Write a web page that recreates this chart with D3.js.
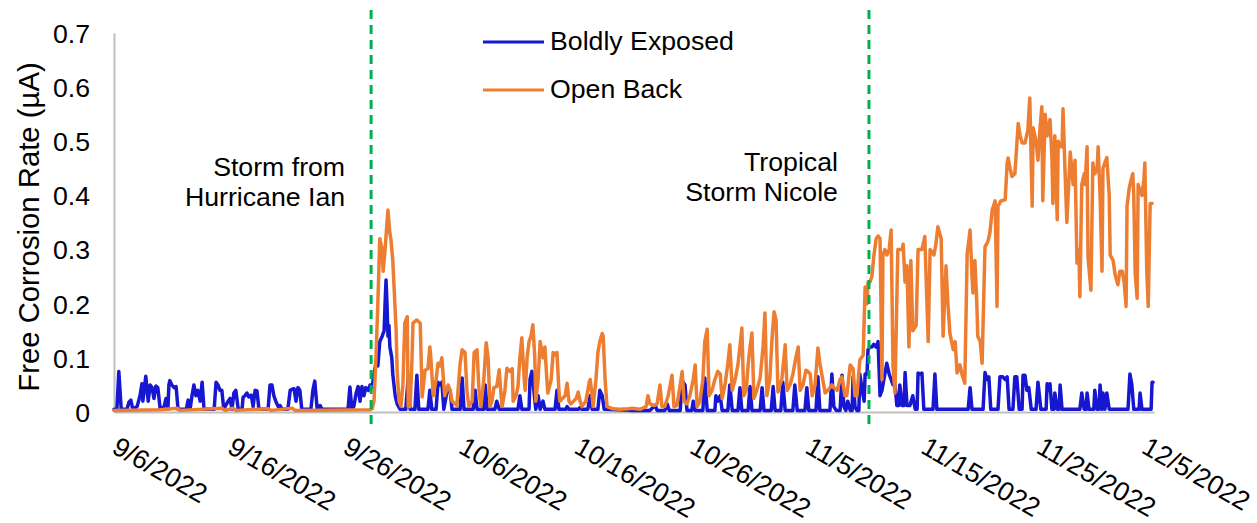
<!DOCTYPE html>
<html>
<head>
<meta charset="utf-8">
<script src="https://cdn.jsdelivr.net/npm/d3@7"></script>
<style>
  html, body { margin: 0; padding: 0; background: #fff; }
  svg text { font-family: "Liberation Sans", Arial, sans-serif; fill: #000; }
</style>
</head>
<body>
<svg id="chart" width="1257" height="523"></svg>
<script>
// Logger readings: [hours since 2022-09-06 00:00 UTC, free corrosion rate in µA]
const startDate = "2022-09-06T00:00Z";
const seriesNames = ["Boldly Exposed", "Open Back"];
const seriesColors = ["#1717d2", "#ed7d31"];

const boldlyExposed = [
  [0,0.005],[6,0.005],[10,0.075],[15,0.005],[27,0.005],[31,0.018],[35,0.022],[39,0.005],[48,0.01],[54,0.03],
  [58,0.052],[60,0.02],[66,0.066],[71,0.02],[75,0.05],[79,0.045],[83,0.025],[87,0.048],[91,0.045],[96,0.005],
  [104,0.01],[108,0.025],[112,0.005],[114,0.05],[116,0.058],[120,0.05],[125,0.045],[129,0.047],[133,0.005],[150,0.005],
  [154,0.022],[158,0.005],[162,0.03],[166,0.05],[170,0.03],[174,0.04],[179,0.02],[183,0.055],[187,0.005],[208,0.005],
  [212,0.055],[216,0.05],[220,0.04],[224,0.04],[228,0.005],[237,0.02],[241,0.025],[245,0.005],[249,0.035],[253,0.04],
  [258,0.005],[266,0.005],[268,0.027],[272,0.03],[276,0.035],[280,0.028],[285,0.031],[289,0.01],[293,0.04],[297,0.039],
  [301,0.005],[320,0.005],[324,0.05],[328,0.05],[332,0.03],[336,0.02],[341,0.01],[345,0.012],[349,0.005],[361,0.005],
  [366,0.04],[370,0.042],[374,0.043],[378,0.02],[382,0.045],[386,0.04],[390,0.005],[409,0.005],[413,0.04],[417,0.057],
  [422,0.005],[428,0.012],[432,0.005],[486,0.005],[490,0.046],[494,0.005],[498,0.01],[503,0.035],[507,0.047],[511,0.02],
  [515,0.047],[519,0.03],[523,0.045],[528,0.04],[532,0.05],[536,0.045],[540,0.07],[544,0.09],[548,0.085],[552,0.13],
  [557,0.14],[561,0.15],[563,0.2],[565,0.244],[567,0.2],[569,0.14],[571,0.16],[573,0.12],[577,0.1],[579,0.07],
  [584,0.03],[588,0.015],[594,0.005],[606,0.005],[611,0.065],[615,0.005],[625,0.005],[629,0.068],[633,0.005],[652,0.005],
  [656,0.04],[660,0.005],[669,0.005],[673,0.055],[677,0.05],[681,0.055],[685,0.005],[692,0.04],[698,0.04],[702,0.005],
  [719,0.005],[723,0.063],[727,0.005],[746,0.005],[750,0.04],[754,0.005],[768,0.005],[771,0.05],[775,0.005],[791,0.005],
  [795,0.02],[800,0.005],[839,0.005],[843,0.03],[847,0.005],[862,0.005],[864,0.06],[868,0.075],[872,0.04],[876,0.005],
  [881,0.03],[885,0.005],[891,0.02],[895,0.005],[916,0.005],[920,0.04],[924,0.005],[939,0.005],[941,0.01],[945,0.005],
  [964,0.005],[968,0.008],[972,0.005],[984,0.005],[989,0.03],[993,0.005],[1005,0.005],[1009,0.04],[1014,0.03],[1018,0.005],
  [1072,0.003],[1113,0.003],[1124,0.012],[1128,0.003],[1144,0.003],[1149,0.015],[1153,0.003],[1176,0.003],[1180,0.058],[1186,0.05],
  [1190,0.003],[1200,0.003],[1203,0.02],[1207,0.003],[1223,0.003],[1227,0.063],[1232,0.003],[1248,0.003],[1250,0.03],[1254,0.02],
  [1259,0.03],[1263,0.003],[1275,0.003],[1279,0.05],[1284,0.003],[1296,0.003],[1300,0.045],[1304,0.003],[1317,0.003],[1321,0.047],
  [1325,0.003],[1342,0.003],[1346,0.045],[1350,0.003],[1365,0.003],[1369,0.047],[1373,0.003],[1385,0.003],[1389,0.055],[1394,0.003],
  [1410,0.003],[1414,0.05],[1419,0.003],[1435,0.003],[1439,0.045],[1443,0.003],[1458,0.003],[1462,0.065],[1466,0.003],[1487,0.003],
  [1491,0.07],[1495,0.01],[1500,0.003],[1508,0.003],[1512,0.068],[1516,0.01],[1520,0.003],[1524,0.02],[1529,0.003],[1533,0.003],
  [1535,0.065],[1539,0.01],[1543,0.003],[1547,0.003],[1549,0.07],[1554,0.04],[1558,0.02],[1560,0.07],[1564,0.07],[1566,0.115],
  [1570,0.12],[1574,0.12],[1578,0.125],[1583,0.12],[1587,0.13],[1591,0.03],[1595,0.04],[1599,0.06],[1605,0.09],[1610,0.07],
  [1614,0.06],[1618,0.05],[1622,0.05],[1626,0.012],[1630,0.012],[1632,0.05],[1637,0.012],[1641,0.012],[1643,0.073],[1647,0.012],
  [1653,0.012],[1659,0.03],[1664,0.005],[1668,0.005],[1670,0.072],[1676,0.07],[1678,0.072],[1682,0.005],[1701,0.005],[1705,0.07],
  [1709,0.005],[1774,0.005],[1778,0.045],[1782,0.005],[1805,0.005],[1809,0.073],[1813,0.06],[1817,0.065],[1821,0.005],[1828,0.005],
  [1836,0.005],[1840,0.065],[1846,0.065],[1851,0.06],[1855,0.065],[1859,0.005],[1867,0.005],[1871,0.065],[1875,0.065],[1880,0.005],
  [1886,0.005],[1888,0.068],[1892,0.068],[1896,0.04],[1900,0.045],[1905,0.005],[1915,0.005],[1919,0.055],[1925,0.005],[1936,0.005],
  [1938,0.052],[1942,0.04],[1944,0.052],[1948,0.005],[1952,0.005],[1954,0.035],[1959,0.005],[1963,0.005],[1965,0.05],[1969,0.005],
  [2006,0.005],[2010,0.035],[2015,0.005],[2019,0.005],[2021,0.035],[2025,0.005],[2035,0.005],[2037,0.04],[2042,0.005],[2046,0.005],
  [2048,0.05],[2052,0.005],[2054,0.035],[2058,0.005],[2062,0.035],[2067,0.005],[2106,0.005],[2110,0.07],[2114,0.05],[2118,0.005],
  [2129,0.005],[2131,0.035],[2135,0.005],[2154,0.005],[2156,0.055],[2158,0.055]
];

const openBack = [
  [0,0.003],[96,0.004],[131,0.007],[137,0.003],[224,0.007],[231,0.003],[247,0.007],[253,0.003],[320,0.006],[326,0.003],
  [370,0.007],[376,0.003],[532,0.004],[536,0.006],[540,0.02],[544,0.1],[548,0.2],[552,0.32],[557,0.3],[559,0.26],
  [563,0.3],[567,0.35],[569,0.373],[571,0.35],[573,0.33],[575,0.32],[579,0.28],[582,0.225],[586,0.15],[588,0.077],
  [592,0.02],[596,0.011],[600,0.05],[604,0.164],[609,0.176],[611,0.01],[615,0.01],[619,0.1],[621,0.164],[629,0.17],
  [636,0.164],[640,0.028],[646,0.077],[652,0.08],[656,0.12],[658,0.1],[663,0.03],[669,0.06],[673,0.09],[677,0.085],
  [681,0.1],[685,0.05],[687,0.03],[694,0.05],[698,0.04],[702,0.02],[712,0.012],[719,0.09],[723,0.115],[729,0.11],
  [733,0.04],[737,0.01],[744,0.02],[748,0.11],[754,0.115],[758,0.04],[762,0.01],[768,0.06],[773,0.128],[777,0.1],
  [781,0.01],[785,0.02],[789,0.045],[795,0.047],[800,0.078],[804,0.03],[806,0.01],[812,0.04],[816,0.081],[822,0.075],
  [827,0.08],[829,0.02],[835,0.03],[839,0.047],[843,0.1],[847,0.137],[852,0.06],[854,0.04],[858,0.1],[862,0.13],
  [866,0.14],[870,0.161],[874,0.1],[876,0.02],[881,0.06],[885,0.13],[891,0.1],[895,0.12],[899,0.06],[901,0.035],
  [908,0.06],[912,0.11],[918,0.105],[920,0.11],[924,0.04],[926,0.02],[937,0.03],[941,0.053],[945,0.02],[949,0.015],
  [960,0.025],[964,0.037],[968,0.02],[972,0.01],[980,0.02],[987,0.055],[989,0.06],[993,0.03],[995,0.01],[1001,0.06],
  [1005,0.11],[1009,0.13],[1014,0.145],[1016,0.14],[1020,0.06],[1024,0.01],[1036,0.006],[1051,0.005],[1068,0.006],[1076,0.007],
  [1092,0.005],[1105,0.01],[1109,0.03],[1113,0.015],[1122,0.012],[1128,0.015],[1134,0.05],[1138,0.01],[1144,0.01],[1151,0.03],
  [1159,0.068],[1163,0.01],[1169,0.012],[1176,0.05],[1180,0.075],[1184,0.02],[1190,0.015],[1196,0.03],[1203,0.06],[1207,0.087],
  [1211,0.01],[1217,0.02],[1223,0.06],[1227,0.13],[1232,0.153],[1236,0.03],[1242,0.04],[1248,0.06],[1254,0.075],[1259,0.07],
  [1263,0.025],[1269,0.05],[1275,0.09],[1279,0.124],[1284,0.04],[1290,0.06],[1296,0.088],[1300,0.12],[1304,0.155],[1308,0.03],
  [1313,0.04],[1317,0.087],[1321,0.12],[1325,0.146],[1329,0.025],[1335,0.04],[1342,0.063],[1348,0.12],[1352,0.183],[1356,0.03],
  [1362,0.06],[1367,0.14],[1371,0.185],[1375,0.17],[1379,0.037],[1383,0.05],[1387,0.06],[1394,0.124],[1398,0.04],[1404,0.05],
  [1410,0.07],[1416,0.1],[1421,0.12],[1425,0.04],[1431,0.05],[1437,0.077],[1441,0.075],[1446,0.07],[1450,0.03],[1456,0.05],
  [1462,0.118],[1466,0.09],[1470,0.07],[1477,0.035],[1483,0.04],[1491,0.05],[1495,0.045],[1502,0.04],[1508,0.06],[1512,0.065],
  [1518,0.03],[1522,0.03],[1529,0.087],[1535,0.08],[1539,0.03],[1543,0.03],[1549,0.096],[1556,0.105],[1560,0.231],[1564,0.2],
  [1566,0.24],[1570,0.24],[1574,0.25],[1578,0.287],[1583,0.32],[1587,0.325],[1591,0.32],[1595,0.06],[1597,0.29],[1601,0.3],
  [1605,0.29],[1610,0.3],[1614,0.336],[1618,0.084],[1622,0.035],[1628,0.3],[1637,0.3],[1639,0.31],[1643,0.24],[1647,0.27],
  [1651,0.12],[1655,0.28],[1659,0.15],[1666,0.16],[1670,0.3],[1678,0.3],[1684,0.324],[1691,0.13],[1695,0.3],[1703,0.29],
  [1707,0.31],[1711,0.342],[1718,0.32],[1722,0.14],[1728,0.27],[1732,0.2],[1736,0.146],[1743,0.115],[1747,0.13],[1751,0.072],
  [1757,0.087],[1761,0.07],[1767,0.053],[1772,0.293],[1778,0.336],[1782,0.25],[1784,0.22],[1788,0.28],[1792,0.2],[1794,0.14],
  [1799,0.13],[1803,0.09],[1809,0.305],[1815,0.315],[1819,0.33],[1824,0.373],[1830,0.39],[1834,0.195],[1836,0.38],[1842,0.39],
  [1851,0.392],[1855,0.46],[1857,0.469],[1861,0.45],[1865,0.435],[1871,0.44],[1878,0.533],[1882,0.51],[1886,0.497],[1892,0.497],
  [1898,0.52],[1902,0.58],[1907,0.38],[1909,0.525],[1915,0.5],[1919,0.465],[1923,0.52],[1927,0.564],[1929,0.39],[1934,0.55],
  [1938,0.51],[1944,0.54],[1948,0.47],[1950,0.385],[1954,0.51],[1959,0.355],[1961,0.5],[1965,0.49],[1969,0.49],[1971,0.56],
  [1975,0.45],[1979,0.35],[1986,0.48],[1990,0.44],[1992,0.42],[1996,0.465],[2000,0.275],[2004,0.3],[2006,0.213],[2010,0.42],
  [2015,0.44],[2017,0.42],[2021,0.49],[2023,0.285],[2029,0.225],[2033,0.46],[2037,0.44],[2042,0.45],[2044,0.49],[2048,0.4],
  [2052,0.26],[2054,0.45],[2058,0.46],[2062,0.47],[2067,0.4],[2069,0.29],[2075,0.28],[2079,0.255],[2085,0.235],[2089,0.26],
  [2094,0.26],[2098,0.24],[2102,0.195],[2104,0.38],[2108,0.41],[2110,0.42],[2116,0.44],[2118,0.4],[2121,0.255],[2125,0.21],
  [2127,0.42],[2131,0.41],[2135,0.4],[2139,0.43],[2141,0.46],[2145,0.26],[2148,0.195],[2152,0.385],[2156,0.385]
];

const yTicks = [0, 0.1, 0.2, 0.3, 0.4, 0.5, 0.6, 0.7];
const dateTicks = ["9/6/2022", "9/16/2022", "9/26/2022", "10/6/2022", "10/16/2022",
                   "10/26/2022", "11/5/2022", "11/15/2022", "11/25/2022", "12/5/2022"];
const stormDates = ["2022-09-28T06:00Z", "2022-11-10T08:00Z"];
const stormLabels = [["Storm from", "Hurricane Ian"], ["Tropical", "Storm Nicole"]];
const yTitle = "Free Corrosion Rate (µA)";

// ---- drawing ----
const FONT = '"Liberation Sans", Arial, sans-serif';
const W = 1257;
const svg = d3.select("#chart");
const parseTick = d3.utcParse("%m/%d/%Y");
const fmtTick = d3.utcFormat("%-m/%-d/%Y");
const t0 = d3.isoParse(startDate);
const toTime = h => d3.utcHour.offset(t0, h);

const x = d3.scaleUtc()
  .domain([parseTick(dateTicks[0]), parseTick(dateTicks[dateTicks.length - 1])])
  .range([114, 1154]);
const y = d3.scaleLinear().domain([0, 0.7]).range([412, 33]);

// y axis
const gy = svg.append("g")
  .attr("transform", `translate(${x.range()[0]},0)`)
  .call(d3.axisLeft(y).tickValues(yTicks).tickSize(0).tickSizeOuter(0).tickPadding(24)
        .tickFormat(d => d === 0 ? "0" : d3.format(".1f")(d)))
  .attr("font-family", FONT).attr("font-size", 26.7);
gy.select(".domain").attr("stroke", "#bfbfbf").attr("stroke-width", 2);
gy.selectAll(".tick text").attr("fill", "#000").attr("dy", "0.35em");

// x axis with slanted date labels
const gx = svg.append("g")
  .attr("transform", `translate(0,${y(0)})`)
  .call(d3.axisBottom(x).tickValues(dateTicks.map(parseTick)).tickSize(0).tickSizeOuter(0)
        .tickFormat(fmtTick))
  .attr("font-family", FONT).attr("font-size", 26.7);
gx.select(".domain").attr("stroke", "#bfbfbf").attr("stroke-width", 2);
gx.selectAll(".tick text")
  .attr("fill", "#000")
  .attr("x", 0).attr("y", 0).attr("dy", 0)
  .attr("text-anchor", "start")
  .attr("transform", "translate(-4,40) rotate(30)")
  .each(function () {
    // keep the last slanted label inside the canvas
    const r = this.getBoundingClientRect();
    const over = r.right - (W - 2);
    if (over > 0) d3.select(this).attr("transform", `translate(${-4 - over},40) rotate(30)`);
  });

// y title
svg.append("text")
  .attr("transform", `translate(28,227) rotate(-90)`)
  .attr("text-anchor", "middle")
  .attr("dominant-baseline", "central")
  .attr("font-size", 29.3)
  .text(yTitle);

// series
const line = d3.line()
  .x(d => x(toTime(d[0])))
  .y(d => y(d[1]))
  .curve(d3.curveLinear);

[boldlyExposed, openBack].forEach((data, i) => {
  svg.append("path")
    .datum(data)
    .attr("fill", "none")
    .attr("stroke", seriesColors[i])
    .attr("stroke-width", 3.5)
    .attr("stroke-linejoin", "round")
    .attr("stroke-linecap", "round")
    .attr("d", line);
});

// storm markers
const stormTextPos = [{dx: -26, top: 176}, {dx: -31, top: 171}];
stormDates.forEach((s, i) => {
  const sx = x(d3.isoParse(s));
  svg.append("line")
    .attr("x1", sx).attr("x2", sx)
    .attr("y1", y(0.7425)).attr("y2", y(-0.03))
    .attr("stroke", "#00b050")
    .attr("stroke-width", 3)
    .attr("stroke-dasharray", "9,6");
  const t = svg.append("text")
    .attr("text-anchor", "end")
    .attr("font-size", 26.7);
  stormLabels[i].forEach((ln, j) => {
    t.append("tspan")
      .attr("x", sx + stormTextPos[i].dx)
      .attr("y", stormTextPos[i].top + j * 30)
      .text(ln);
  });
});

// legend
const legend = svg.append("g").attr("transform", "translate(483,42)");
seriesNames.forEach((name, i) => {
  const g = legend.append("g").attr("transform", `translate(0,${i * 48})`);
  g.append("line").attr("x1", 0).attr("x2", 61).attr("y1", 0).attr("y2", 0)
    .attr("stroke", seriesColors[i]).attr("stroke-width", 3);
  g.append("text").attr("x", 67).attr("y", 8).attr("font-size", 26.7).text(name);
});
</script>
</body>
</html>
